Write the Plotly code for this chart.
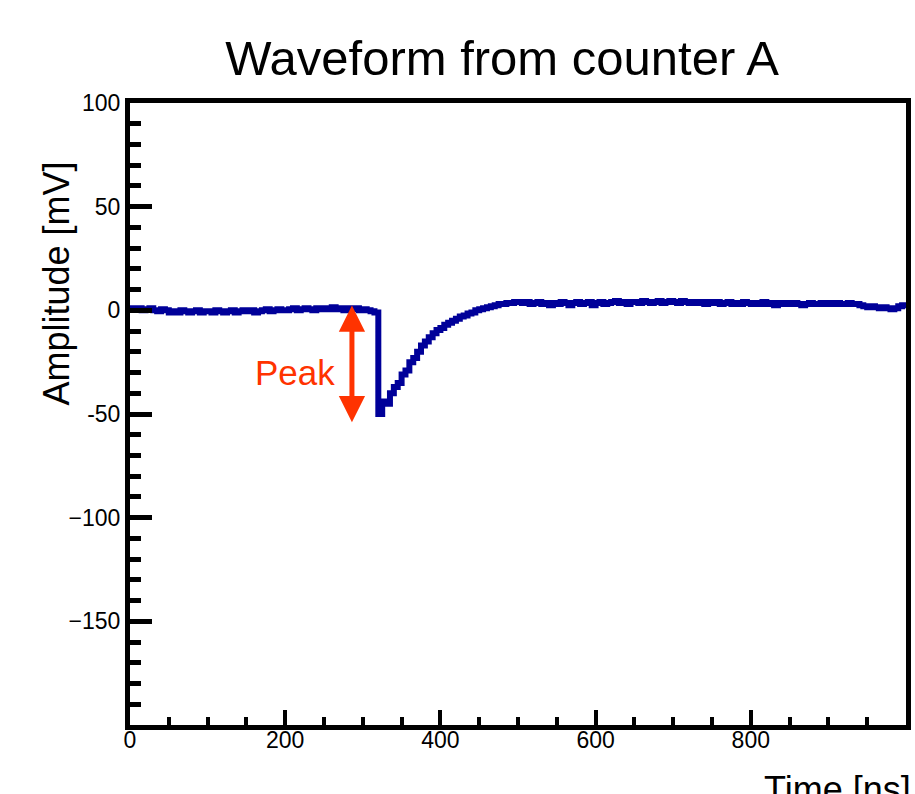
import plotly.graph_objects as go

# ---- data ----
BIN_WIDTH_NS = 5
TIME_NS = list(range(0, 1000, BIN_WIDTH_NS))  # bin lower edges

AMPLITUDE_MV = [
    1, 0.5, 1, 0, 0.5, 1, 0, -0.5, 0.5, 0,            # 0-45
    -1, -0.5, -1, 0, -0.5, -1, -0.5, 0, -1, -0.5,     # 50-95
    -0.5, -1, 0, -0.5, -1, -0.5, 0, -1, -0.5, 0,      # 100-145
    -0.5, 0, -1, -0.5, 0, 0.5, -0.5, 0, 0.5, 0,       # 150-195
    0, 0.5, 1, 0, 0.5, 1, 0.5, 0, 1, 0.5,             # 200-245
    1, 0.5, 1.5, 0.5, 1, 0, 1, 0.5, 1, 0,             # 250-295
    0.5, 0, -0.5, -1,                                 # 300-315
    -50, -44, -45, -40, -37, -35,                     # 320-345
    -31, -29, -25, -23, -20, -17, -15, -13, -11, -9.5,  # 350-395
    -8.5, -7, -6, -5, -4, -3, -2.5, -1.5, -1, 0,      # 400-445
    0.5, 1, 1.5, 2, 2.5, 3, 3, 3.5, 3.5, 4,           # 450-495
    4, 3.5, 4, 3, 3.5, 4, 3, 3.5, 2.5, 3.5,           # 500-545
    3, 4, 3.5, 2.5, 3.5, 4, 3, 3.5, 4, 2.5,           # 550-595
    3.5, 4, 3, 3.5, 4, 4.5, 3.5, 4, 3, 4,             # 600-645
    4, 3.5, 4.5, 4, 3.5, 4, 4.5, 3.5, 4, 4.5,         # 650-695
    4, 3.5, 4.5, 4, 3.5, 4, 3.5, 4, 3, 4,             # 700-745
    3.5, 4, 3, 3.5, 4, 3, 3.5, 3, 4, 3.5,             # 750-795
    3, 3.5, 3, 4, 3, 3.5, 2.5, 3.5, 3, 3.5,           # 800-845
    3, 3.5, 3, 2.5, 3, 3.5, 3, 3, 3.5, 3,             # 850-895
    3.5, 3, 3.5, 3, 3, 3.5, 3, 3, 2.5, 2,             # 900-945
    1.5, 2, 1.5, 1, 1.5, 1, 0.5, 1, 2, 2.5,           # 950-995
]

Y_TICK_VALUES = [-150, -100, -50, 0, 50, 100]
Y_TICK_LABELS = ["\u2212150", "\u2212100", "-50", "0", "50", "100"]
X_TICK_VALUES = [0, 200, 400, 600, 800, 1000]
X_TICK_LABELS = ["0", "200", "400", "600", "800", "1000"]

X_RANGE = [0, 1000]
Y_RANGE = [-200, 100]

TITLE = "Waveform from counter A"
X_TITLE = "Time [ns]"
Y_TITLE = "Amplitude [mV]"
PEAK_LABEL = "Peak"
PEAK_ARROW_T = 286          # ns, position of the peak arrow
PEAK_ARROW_TOP = 3          # mV
PEAK_ARROW_BOTTOM = -54     # mV
PEAK_LABEL_POS = (213, -30)  # (ns, mV)

# ---- layout geometry ----
W, H = 915, 794
ML, MR, MT, MB = 130, 4, 103, 69
PW, PH = W - ML - MR, H - MT - MB


def px_to_paper_x(px):
    return (px - ML) / PW


def px_to_paper_y(py):
    return (H - MB - py) / PH


FONT = "Liberation Sans, Arial, Helvetica, sans-serif"
RED = "#ff3300"
BLUE = "#000099"

# step histogram: bin edges with last content repeated at the final edge
x_edges = TIME_NS + [TIME_NS[-1] + BIN_WIDTH_NS]
y_steps = AMPLITUDE_MV + [AMPLITUDE_MV[-1]]

fig = go.Figure()
fig.add_trace(go.Scatter(
    x=x_edges, y=y_steps, mode="lines",
    line=dict(color=BLUE, width=6, shape="hv"),
    hoverinfo="x+y", showlegend=False,
))

axis_common = dict(
    showline=True, linecolor="black", linewidth=5, mirror=True,
    showgrid=False, zeroline=False,
    ticks="inside", tickcolor="black",
    tickfont=dict(family=FONT, size=23, color="black"),
)

fig.update_xaxes(
    range=X_RANGE, tickmode="array", tickvals=X_TICK_VALUES, ticktext=X_TICK_LABELS,
    ticklen=15, tickwidth=4, ticklabelstandoff=-10,
    minor=dict(ticks="inside", ticklen=8, tickwidth=4, dtick=50, tick0=0,
               tickcolor="black", showgrid=False),
    **axis_common,
)
fig.update_yaxes(
    range=Y_RANGE, tickmode="array", tickvals=Y_TICK_VALUES, ticktext=Y_TICK_LABELS,
    ticklen=22, tickwidth=4.5,
    minor=dict(ticks="inside", ticklen=11, tickwidth=4.5, dtick=10, tick0=0,
               tickcolor="black", showgrid=False),
    **axis_common,
)

annotations = [
    dict(text=Y_TITLE, xref="paper", yref="paper",
         x=px_to_paper_x(56), y=px_to_paper_y(283), textangle=-90,
         xanchor="center", yanchor="middle", showarrow=False,
         font=dict(family=FONT, size=36, color="black")),
    dict(text=X_TITLE, xref="paper", yref="paper",
         x=px_to_paper_x(918), y=px_to_paper_y(789),
         xanchor="right", yanchor="middle", showarrow=False,
         font=dict(family=FONT, size=36, color="black")),
    dict(text=PEAK_LABEL, xref="x", yref="y",
         x=PEAK_LABEL_POS[0], y=PEAK_LABEL_POS[1],
         xanchor="center", yanchor="middle", showarrow=False,
         font=dict(family=FONT, size=35, color=RED)),
    dict(text="", xref="x", yref="y", axref="x", ayref="y",
         x=PEAK_ARROW_T, y=PEAK_ARROW_BOTTOM,
         ax=PEAK_ARROW_T, ay=PEAK_ARROW_TOP,
         showarrow=True, arrowside="end+start", arrowhead=2, startarrowhead=2,
         arrowsize=1.05, startarrowsize=1.05, arrowwidth=5, arrowcolor=RED,
         standoff=0, startstandoff=0),
]

fig.update_layout(
    width=W, height=H,
    margin=dict(l=ML, r=MR, t=MT, b=MB, pad=0),
    paper_bgcolor="white", plot_bgcolor="white",
    title=dict(text=TITLE, xref="container", yref="container",
               x=502 / W, y=1 - 58 / H, xanchor="center", yanchor="middle",
               font=dict(family=FONT, size=49, color="black")),
    annotations=annotations,
    font=dict(family=FONT, color="black"),
)

fig.write_html("out.html", config={"displayModeBar": False},
               post_script="document.body.style.margin='0';")
